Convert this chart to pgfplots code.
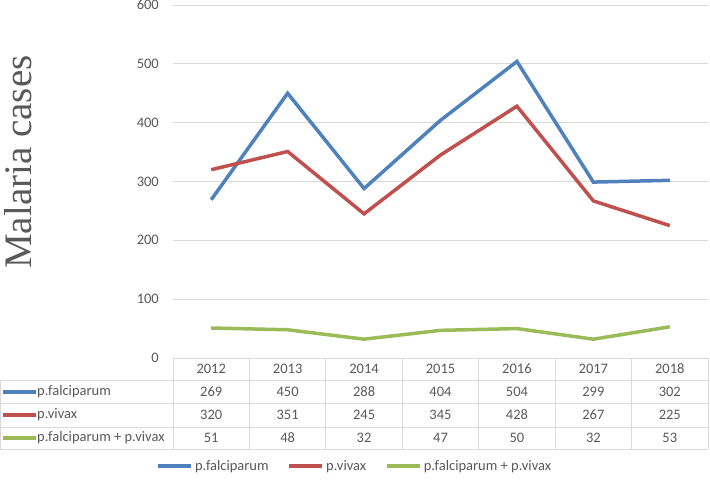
\documentclass[border=0pt]{standalone}
\usepackage{pgfplots}
\pgfplotsset{compat=1.18}
\usepackage{pgfplotstable}
\usepackage{fontspec}
\setmainfont{Carlito}
\newfontfamily\serifface{Liberation Serif}
\definecolor{falblue}{HTML}{4F81BD}
\definecolor{vivred}{HTML}{C0504D}
\definecolor{mixgreen}{HTML}{9BBB59}
\definecolor{txtgray}{HTML}{595959}
\definecolor{gridgray}{HTML}{D9D9D9}

\pgfplotstableread{
x year fal viv mix
0 2012 269 320 51
1 2013 450 351 48
2 2014 288 245 32
3 2015 404 345 47
4 2016 504 428 50
5 2017 299 267 32
6 2018 302 225 53
}\cases

\begin{document}
\begin{tikzpicture}
\useasboundingbox (-173pt,-124pt) rectangle (537pt,358pt);
\begin{axis}[
    scale only axis,
    width=535pt, height=353pt,
    xmin=-0.5, xmax=6.5,
    ymin=0, ymax=600,
    ytick={0,100,...,600},
    xtick=\empty,
    axis line style={draw=none},
    tick style={draw=none},
    ymajorgrids,
    grid style={gridgray, line width=0.9pt},
    /pgf/number format/assume math mode=true,
    yticklabel={\pgfmathprintnumber{\tick}},
    yticklabel style={font=\fontsize{14.5}{16}\selectfont, text=txtgray, inner sep=0pt, xshift=-14pt},
    ylabel={Malaria cases},
    ylabel style={at={(axis description cs:-0.289,0.555)}, anchor=center, font=\serifface\fontsize{39}{42}\selectfont, text=txtgray},
    clip=false,
    legend columns=3,
    legend style={at={(axis description cs:0.340,-0.306)}, anchor=center, draw=none, fill=none,
        font=\fontsize{14.5}{16}\selectfont, text=txtgray, inner sep=0pt,
        /tikz/every even column/.append style={column sep=17pt}},
    legend image code/.code={\draw[#1, line width=3.5pt] (0pt,0pt) -- (33pt,0pt);},
]
\addplot[falblue, line width=3.5pt] table[x=x, y=fal] {\cases};
\addlegendentry{p.falciparum}
\addplot[vivred, line width=3.5pt] table[x=x, y=viv] {\cases};
\addlegendentry{p.vivax}
\addplot[mixgreen, line width=3.5pt] table[x=x, y=mix] {\cases};
\addlegendentry{p.falciparum + p.vivax}
\end{axis}

% data table under the axis
\def\cw{76.4286}
\begin{scope}[gridgray, line width=0.9pt]
  \draw (0pt,0pt) -- (535pt,0pt);
  \foreach \yy in {-22,-45,-69,-91} \draw (-173pt,\yy pt) -- (535pt,\yy pt);
  \foreach \k in {0,...,7} \draw (\k*\cw pt,0pt) -- (\k*\cw pt,-91pt);
  \draw (-172.5pt,-22pt) -- (-172.5pt,-91pt);
\end{scope}
\begin{scope}[every node/.style={font=\fontsize{14.5}{16}\selectfont, text=txtgray, inner sep=0pt}]
  \foreach \v [count=\i from 0] in {2012,2013,2014,2015,2016,2017,2018}
    \node at ({(\i+0.5)*\cw pt},-11pt) {\v};
  \foreach \v [count=\i from 0] in {269,450,288,404,504,299,302}
    \node at ({(\i+0.5)*\cw pt},-34pt) {\v};
  \foreach \v [count=\i from 0] in {320,351,245,345,428,267,225}
    \node at ({(\i+0.5)*\cw pt},-57pt) {\v};
  \foreach \v [count=\i from 0] in {51,48,32,47,50,32,53}
    \node at ({(\i+0.5)*\cw pt},-80pt) {\v};
  \draw[falblue, line width=3.5pt] (-170pt,-34pt) -- (-137pt,-34pt);
  \draw[vivred, line width=3.5pt] (-170pt,-57pt) -- (-137pt,-57pt);
  \draw[mixgreen, line width=3.5pt] (-170pt,-80pt) -- (-137pt,-80pt);
  \node[anchor=west] at (-136pt,-34pt) {p.falciparum};
  \node[anchor=west] at (-136pt,-57pt) {p.vivax};
  \node[anchor=west] at (-136pt,-80pt) {p.falciparum + p.vivax};
\end{scope}
\end{tikzpicture}
\end{document}
